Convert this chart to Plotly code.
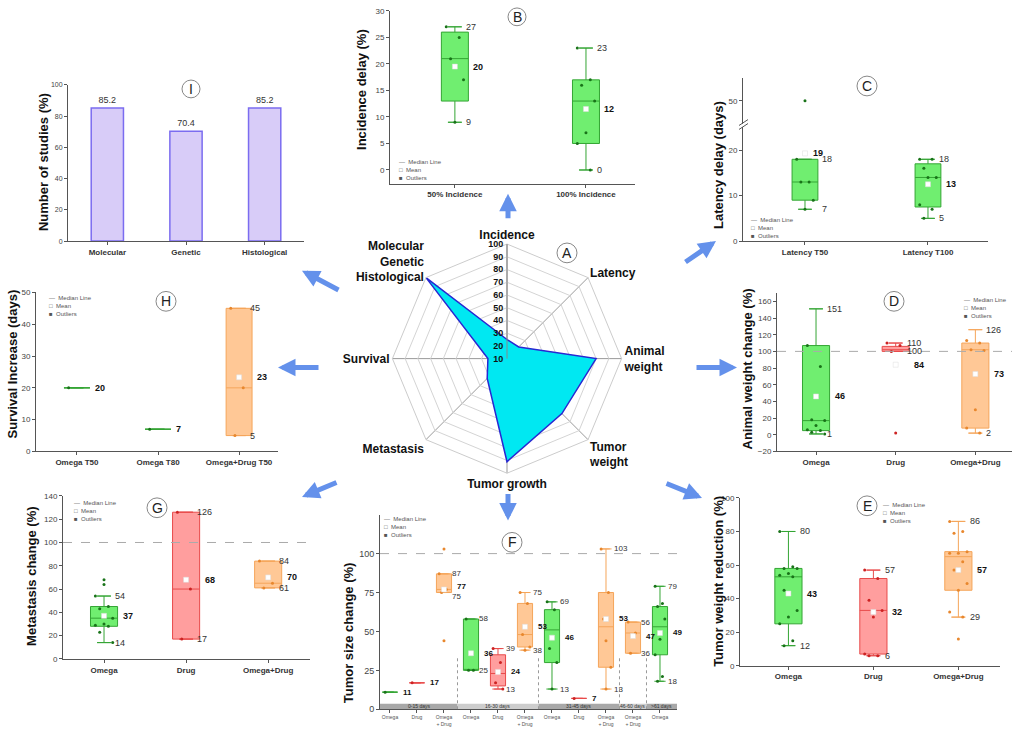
import plotly.graph_objects as go

W, H = 1024, 737
FONT = "Liberation Sans, Arial, sans-serif"

# ---------------- DATA ----------------
# Panel I (bars)
I_cats = ["Molecular", "Genetic", "Histological"]
I_vals = [85.2, 70.4, 85.2]

# Panel B
B_cats = ["50% Incidence", "100% Incidence"]
B_col = ["g", "g"]
B_q1 = [13, 5]
B_med = [21, 13]
B_q3 = [26, 17]
B_lo = [9, 0]
B_hi = [27, 23]
B_mean = [19.5, 11.5]
B_mean_lbl = [20, 12]
B_pts = [[27, 25, 21, 17, 9], [23, 17, 16, 13, 7, 5, 0]]
B_out = [[], []]

# Panel C
C_cats = ["Latency T50", "Latency T100"]
C_col = ["g", "g"]
C_q1 = [9, 7.5]
C_med = [13, 14]
C_q3 = [18, 17]
C_lo = [7, 5]
C_hi = [18, 18]
C_mean = [19.3, 12.5]
C_mean_lbl = [19, 13]
C_pts = [[18, 13, 13, 9, 7], [18, 18, 16, 14, 14, 8, 7, 5]]
C_out = [[50], []]

# Panel H
H_cats = ["Omega T50", "Omega T80", "Omega+Drug T50"]
H_col = ["g", "g", "o"]
H_q1 = [20, 7, 5]
H_med = [20, 7, 20]
H_q3 = [20, 7, 45]
H_lo = [20, 7, 5]
H_hi = [20, 7, 45]
H_mean = [20, 7, 23.3]
H_mean_lbl = [20, 7, 23]
H_pts = [[20], [7], [45, 20, 5]]
H_out = [[], [], []]

# Panel D
D_cats = ["Omega", "Drug", "Omega+Drug"]
D_col = ["g", "r", "o"]
D_q1 = [5, 100, 8]
D_med = [17, 102, 102]
D_q3 = [107, 106, 110]
D_lo = [1, 100, 2]
D_hi = [151, 110, 126]
D_mean = [46, 84, 73]
D_mean_lbl = [46, 84, 73]
D_pts = [[107, 82, 18, 17, 11, 6, 5, 3, 1], [110, 107, 100], [113, 110, 102, 101, 30, 8, 2]]
D_out = [[], [2], []]

# Panel G
G_cats = ["Omega", "Drug", "Omega+Drug"]
G_col = ["g", "r", "o"]
G_q1 = [28, 17, 61]
G_med = [35, 60, 65]
G_q3 = [45, 126, 84]
G_lo = [14, 17, 61]
G_hi = [54, 126, 84]
G_mean = [37, 68, 70]
G_mean_lbl = [37, 68, 70]
G_pts = [[54, 45, 43, 35, 30, 29, 28, 23, 14], [126, 60, 17], [84, 65, 61]]
G_out = [[68, 64], [], []]

# Panel E
E_cats = ["Omega", "Drug", "Omega+Drug"]
E_col = ["g", "r", "o"]
E_q1 = [25, 7, 45]
E_med = [53, 33, 65]
E_q3 = [58, 52, 68]
E_lo = [12, 6, 29]
E_hi = [80, 57, 86]
E_mean = [43, 32, 57]
E_mean_lbl = [43, 32, 57]
E_pts = [[80, 59, 58, 58, 55, 54, 53, 45, 33, 29, 25, 15, 12],
         [57, 52, 39, 33, 29, 7, 6, 6],
         [86, 80, 79, 68, 67, 67, 62, 57, 49, 45, 32, 29]]
E_out = [[], [], [16]]

# Panel F
F_cats = ["Omega", "Drug", "Omega<br>+ Drug", "Omega", "Drug", "Omega<br>+ Drug",
          "Omega", "Drug", "Omega<br>+ Drug", "Omega<br>+ Drug", "Omega"]
F_col = ["g", "r", "o", "g", "r", "o", "g", "r", "o", "o", "g"]
F_q1 = [11, 17, 75, 25, 15, 40, 30, 7, 27, 36, 35]
F_med = [11, 17, 77, 25, 23, 48, 51, 7, 53, 49, 53]
F_q3 = [11, 17, 87, 58, 35, 68, 64, 7, 75, 56, 66]
F_lo = [11, 17, 75, 25, 13, 38, 13, 7, 13, 36, 18]
F_hi = [11, 17, 87, 58, 39, 75, 69, 7, 103, 56, 79]
F_mean = [11, 17, 77, 36, 24, 53, 46, 7, 58, 47, 49]
F_mean_lbl = [11, 17, 77, 36, 24, 53, 46, 7, 53, 47, 49]
F_pts = [[11], [17], [87, 77, 75], [58, 25, 25], [39, 30, 17, 13], [75, 68, 48, 40, 38],
         [69, 64, 39, 30, 13], [7], [103, 75, 58, 27, 13], [56, 49, 36], [79, 68, 66, 58, 45, 35, 21, 18]]
F_out = [[], [], [103, 44], [], [], [], [], [], [44], [], []]
F_groups = ["0-15 days", "16-30 days", "31-45 days", "46-60 days", ">61 days"]
F_group_sizes = [3, 3, 3, 1, 1]

# Panel A (radar)
A_axes = ["Incidence", "Latency", "Animal<br>weight", "Tumor<br>weight", "Tumor growth",
          "Metastasis", "Survival", "Molecular<br>Genetic<br>Histological"]
A_vals = [25, 23, 80, 71, 91, 32, 25, 100]
A_ticks = [10, 20, 30, 40, 50, 60, 70, 80, 90, 100]

# ---------------- STYLE ----------------
PAL = {
    "g": dict(fill="rgb(112,238,112)", line="rgb(52,165,52)", pt="rgb(25,115,25)"),
    "r": dict(fill="rgb(255,158,158)", line="rgb(232,75,75)", pt="rgb(205,35,35)"),
    "o": dict(fill="rgb(255,200,150)", line="rgb(245,165,90)", pt="rgb(232,135,45)"),
}
AXC = "#555"

fig = go.Figure()
layout = {}
annotations = []
shapes = []


def nm(n):
    return ("x" if n == 1 else f"x{n}"), ("y" if n == 1 else f"y{n}")


def add_axes(n, x0, x1, ytop, ybot, xr, yr, cats, ytv, xfont=8, yfont=8):
    xn, yn = nm(n)
    xa = dict(domain=[x0 / W, x1 / W], range=xr, anchor=yn, showline=True, linecolor=AXC,
              linewidth=1, ticks="outside", ticklen=3, tickcolor=AXC, showgrid=False,
              zeroline=False, tickvals=list(range(len(cats))),
              ticktext=[f"<b>{c}</b>" for c in cats],
              tickfont=dict(size=xfont, color="#333", family=FONT))
    ya = dict(domain=[1 - ybot / H, 1 - ytop / H], range=yr, anchor=xn, showline=True,
              linecolor=AXC, linewidth=1, ticks="outside", ticklen=3, tickcolor=AXC,
              showgrid=False, zeroline=False, tickvals=ytv,
              tickfont=dict(size=yfont, color="#444", family=FONT))
    layout["xaxis" if n == 1 else f"xaxis{n}"] = xa
    layout["yaxis" if n == 1 else f"yaxis{n}"] = ya


def jitter(n, w):
    return [(((i * 3) % 5) - 2) / 2.0 * w * 0.32 for i in range(n)]


def add_boxes(xn, yn, q1, med, q3, lo, hi, mean, mean_lbl, cols, pts, outs, w, cap, yspan,
              lfs=9, mean_off=None, hi_off=None):
    for i in range(len(q1)):
        c = PAL[cols[i]]
        single = q1[i] == q3[i] and lo[i] == hi[i]
        mo = mean_off[i] if mean_off else 0.5
        ho = hi_off[i] if hi_off else 0.3
        fig.add_trace(go.Box(x=[i], q1=[q1[i]], median=[med[i]], q3=[q3[i]],
                             lowerfence=[lo[i]], upperfence=[hi[i]], width=w,
                             fillcolor=c["fill"], line=dict(color=c["line"], width=1),
                             boxpoints=False, xaxis=xn, yaxis=yn, hoverinfo="skip",
                             showlegend=False))
        if not single:
            fig.add_trace(go.Scatter(x=[i, i], y=[lo[i], hi[i]], mode="markers",
                                     marker=dict(symbol="line-ew", size=cap,
                                                 line=dict(color=c["line"], width=1)),
                                     xaxis=xn, yaxis=yn, hoverinfo="skip", showlegend=False))
        p = pts[i]
        off = jitter(len(p), w)
        fig.add_trace(go.Scatter(x=[i + o for o in off], y=p, mode="markers",
                                 marker=dict(size=3, color=c["pt"]),
                                 xaxis=xn, yaxis=yn, hoverinfo="skip", showlegend=False))
        if outs[i]:
            fig.add_trace(go.Scatter(x=[i] * len(outs[i]), y=outs[i], mode="markers",
                                     marker=dict(size=3, color=c["pt"]),
                                     xaxis=xn, yaxis=yn, hoverinfo="skip", showlegend=False))
        myshift = 0
        if not single:
            fig.add_trace(go.Scatter(x=[i], y=[mean[i]], mode="markers",
                                     marker=dict(symbol="square", size=5, color="white",
                                                 line=dict(color="#ddd", width=0.5)),
                                     xaxis=xn, yaxis=yn, hoverinfo="skip", showlegend=False))
            for v, sgn in ((hi[i], 1), (lo[i], -1)):
                ys = 0
                if abs(v - mean[i]) < 0.05 * yspan:
                    ys = 4 * sgn
                    myshift = -3 * sgn
                annotations.append(dict(x=i + w * ho, y=v, xref=xn, yref=yn, text=f"{v}",
                                        showarrow=False, xanchor="left", xshift=1, yshift=ys,
                                        font=dict(size=lfs, color="#333", family=FONT)))
        annotations.append(dict(x=i + w * mo, y=mean[i] if not single else med[i], xref=xn, yref=yn,
                                text=f"<b>{mean_lbl[i]}</b>", showarrow=False, xanchor="left",
                                xshift=3, yshift=myshift,
                                font=dict(size=lfs, color="#111", family=FONT)))


def ytitle(text, cx, cy, size=13):
    annotations.append(dict(x=cx / W, y=1 - cy / H, xref="paper", yref="paper",
                            xanchor="center", yanchor="middle",
                            text=f"<b>{text}</b>", textangle=-90, showarrow=False,
                            font=dict(size=size, color="#111", family=FONT)))


def circ_label(t, cx, cy, r=9):
    shapes.append(dict(type="circle", xref="paper", yref="paper", x0=(cx - r) / W, x1=(cx + r) / W,
                       y0=1 - (cy + r) / H, y1=1 - (cy - r) / H, line=dict(color="#888", width=1),
                       fillcolor="white", layer="below"))
    annotations.append(dict(x=cx / W, y=1 - cy / H, xref="paper", yref="paper", text=t,
                            xanchor="center", yanchor="middle",
                            showarrow=False, font=dict(size=14, color="#222", family=FONT)))


def legend_note(px, py):
    annotations.append(dict(x=px / W, y=1 - py / H, xref="paper", yref="paper",
                            text="—  Median Line<br>□  Mean<br>■  Outliers", align="left",
                            xanchor="left", yanchor="top", showarrow=False,
                            font=dict(size=6, color="#555", family=FONT)))


def hline100(xn, yn):
    shapes.append(dict(type="line", xref=f"{xn} domain", yref=yn, x0=0, x1=1, y0=100, y1=100,
                       line=dict(color="#aaa", width=1, dash="dash")))


# ---------------- PANEL I ----------------
add_axes(1, 68, 304, 82, 240, [-0.5, 2.5], [0, 100], I_cats, [0, 20, 40, 60, 80, 100], yfont=7)
fig.add_trace(go.Bar(x=list(range(len(I_cats))), y=I_vals, width=0.41,
                     marker=dict(color="rgb(216,204,248)", line=dict(color="rgb(123,108,240)", width=1.5)),
                     text=[f"{v}" for v in I_vals], textposition="outside", cliponaxis=False,
                     textfont=dict(size=9, color="#333", family=FONT),
                     xaxis="x", yaxis="y", hoverinfo="skip", showlegend=False))
ytitle("Number of studies (%)", 43, 160)
circ_label("I", 191, 86)

# ---------------- PANEL B ----------------
add_axes(2, 390, 635, 7, 182, [-0.495, 1.374], [-2.6, 30], B_cats, [0, 5, 10, 15, 20, 25, 30])
add_boxes("x2", "y2", B_q1, B_med, B_q3, B_lo, B_hi, B_mean, B_mean_lbl, B_col, B_pts, B_out,
          0.206, 10, 32.6)
ytitle("Incidence delay (%)", 362, 87)
circ_label("B", 517, 13)
legend_note(397, 155)

# ---------------- PANEL C (broken axis) ----------------
add_axes(3, 743, 988, 125, 240, [-0.504, 1.488], [0, 25], C_cats, [0, 10, 20])
layout["yaxis4"] = dict(domain=[1 - 121 / H, 1 - 75 / H], range=[45, 55], anchor="x3",
                        showline=True, linecolor=AXC, linewidth=1, ticks="outside", ticklen=3,
                        tickcolor=AXC, showgrid=False, zeroline=False, tickvals=[50],
                        tickfont=dict(size=8, color="#444", family=FONT))
add_boxes("x3", "y3", C_q1, C_med, C_q3, C_lo, C_hi, C_mean, C_mean_lbl, C_col, C_pts,
          [[], []], 0.21, 10, 25, mean_off=[0.12, 0.5], hi_off=[0.55, 0.3])
fig.add_trace(go.Scatter(x=[0] * len(C_out[0]), y=C_out[0], mode="markers",
                         marker=dict(size=3, color=PAL["g"]["pt"]), xaxis="x3", yaxis="y4",
                         hoverinfo="skip", showlegend=False))
for dy in (0, 4):
    shapes.append(dict(type="line", xref="paper", yref="paper", x0=739 / W, x1=748 / W,
                       y0=1 - (127 - dy) / H, y1=1 - (121 - dy) / H, line=dict(color="#555", width=1)))
ytitle("Latency delay (days)", 718, 163)
circ_label("C", 867, 83, 10)
legend_note(749, 214)

# ---------------- PANEL H ----------------
add_axes(5, 36, 278, 292, 453, [-0.505, 2.48], [0, 50], H_cats, [0, 10, 20, 30, 40, 50])
add_boxes("x5", "y5", H_q1, H_med, H_q3, H_lo, H_hi, H_mean, H_mean_lbl, H_col, H_pts, H_out,
          0.32, 10, 50)
ytitle("Survival Increase (days)", 13, 365)
circ_label("H", 166, 301, 10)
legend_note(47, 293)

# ---------------- PANEL D ----------------
add_axes(6, 777, 1012, 293, 453, [-0.49, 2.46], [-20, 169.5], D_cats,
         [-20, 0, 20, 40, 60, 80, 100, 120, 140, 160])
hline100("x6", "y6")
add_boxes("x6", "y6", D_q1, D_med, D_q3, D_lo, D_hi, D_mean, D_mean_lbl, D_col, D_pts, D_out,
          0.34, 10, 190)
ytitle("Animal weight change (%)", 747, 370)
circ_label("D", 894, 301, 10)
legend_note(962, 295)

# ---------------- PANEL G ----------------
add_axes(7, 63, 310, 498, 663, [-0.5, 2.51], [0, 140], G_cats, [0, 20, 40, 60, 80, 100, 120, 140])
hline100("x7", "y7")
add_boxes("x7", "y7", G_q1, G_med, G_q3, G_lo, G_hi, G_mean, G_mean_lbl, G_col, G_pts, G_out,
          0.33, 10, 140)
ytitle("Metastasis change (%)", 32, 580)
circ_label("G", 157, 510, 10)
legend_note(72, 500)

# ---------------- PANEL F ----------------
add_axes(8, 380, 677, 517, 714, [-0.37, 10.63], [0, 125], F_cats, [0, 25, 50, 75, 100],
         xfont=5, yfont=9)
layout["xaxis8"]["ticktext"] = F_cats
layout["xaxis8"]["tickfont"] = dict(size=5, color="#555", family=FONT)
hline100("x8", "y8")
pos = 0
for gi, (g, s) in enumerate(zip(F_groups, F_group_sizes)):
    x0 = -0.37 if gi == 0 else pos - 0.5
    x1 = 10.63 if gi == len(F_groups) - 1 else pos + s - 0.5
    shapes.append(dict(type="rect", xref="x8", yref="y8", x0=x0, x1=x1, y0=0, y1=3.6,
                       fillcolor="#a8a8a8" if gi % 2 == 0 else "#cdcdcd", line=dict(width=0),
                       layer="below"))
    annotations.append(dict(x=(x0 + x1) / 2, y=1.8, xref="x8", yref="y8", text=g, showarrow=False,
                            font=dict(size=5, color="#333", family=FONT)))
    if gi > 0:
        shapes.append(dict(type="line", xref="x8", yref="y8", x0=x0, x1=x0, y0=0, y1=34,
                           line=dict(color="#999", width=1, dash="dot")))
    pos += s
add_boxes("x8", "y8", F_q1, F_med, F_q3, F_lo, F_hi, F_mean, F_mean_lbl, F_col, F_pts, F_out,
          0.56, 8, 125, lfs=8)
ytitle("Tumor size change (%)", 348, 637)
circ_label("F", 512, 545, 10)
legend_note(382, 516)

# ---------------- PANEL E ----------------
add_axes(9, 740, 1000, 500, 670, [-0.57, 2.49], [0, 100], E_cats, [0, 20, 40, 60, 80, 100])
add_boxes("x9", "y9", E_q1, E_med, E_q3, E_lo, E_hi, E_mean, E_mean_lbl, E_col, E_pts, E_out,
          0.32, 10, 100)
ytitle("Tumor weight reduction (%)", 719, 585)
circ_label("E", 867, 508, 10)
legend_note(881, 502)

# ---------------- PANEL A (radar) ----------------
cx, cy, R = 507, 359, 116
fig.add_trace(go.Scatterpolar(r=A_vals + [A_vals[0]], theta=A_axes + [A_axes[0]], fill="toself",
                              fillcolor="rgb(0,232,242)", line=dict(color="rgb(40,40,210)", width=1.5),
                              mode="lines", hoverinfo="skip", showlegend=False))
layout["polar"] = dict(
    domain=dict(x=[(cx - R) / W, (cx + R) / W], y=[1 - (cy + R) / H, 1 - (cy - R) / H]),
    gridshape="linear", bgcolor="white",
    angularaxis=dict(direction="clockwise", rotation=90, showline=True, linecolor="#ccc",
                     gridcolor="#999", ticks="",
                     tickfont=dict(size=12, color="#111", family=FONT, weight="bold")),
    radialaxis=dict(range=[10, 100], tickvals=A_ticks, angle=90, tickangle=90, side="counterclockwise",
                    showline=True, linecolor="#888", gridcolor="#d4d4d4", ticks="",
                    tickfont=dict(size=9, color="#111", family=FONT, weight="bold")),
)
circ_label("A", 567, 252, 10)

# ---------------- ARROWS ----------------
arrows = [((508, 192), (508, 218)), ((716, 240), (684, 262)), ((302, 270), (340, 290)),
          ((278, 368), (320, 368)), ((737, 368), (695, 368)), ((302, 499), (338, 484)),
          ((508, 523), (508, 495)), ((702, 500), (665, 485))]
for (hx, hy), (tx, ty) in arrows:
    annotations.append(dict(x=hx / W, y=1 - hy / H, xref="paper", yref="paper", ax=tx - hx, ay=ty - hy,
                            showarrow=True, arrowhead=2, arrowsize=0.7, arrowwidth=5,
                            arrowcolor="rgb(100,145,235)", text=""))

layout.update(dict(width=W, height=H, margin=dict(l=0, r=0, t=0, b=0), paper_bgcolor="white",
                   plot_bgcolor="white", showlegend=False, annotations=annotations, shapes=shapes,
                   font=dict(family=FONT)))
fig.update_layout(**layout)
fig.write_html("out.html", config={"displayModeBar": False},
               post_script="document.body.style.margin='0px';document.body.style.overflow='hidden';")
